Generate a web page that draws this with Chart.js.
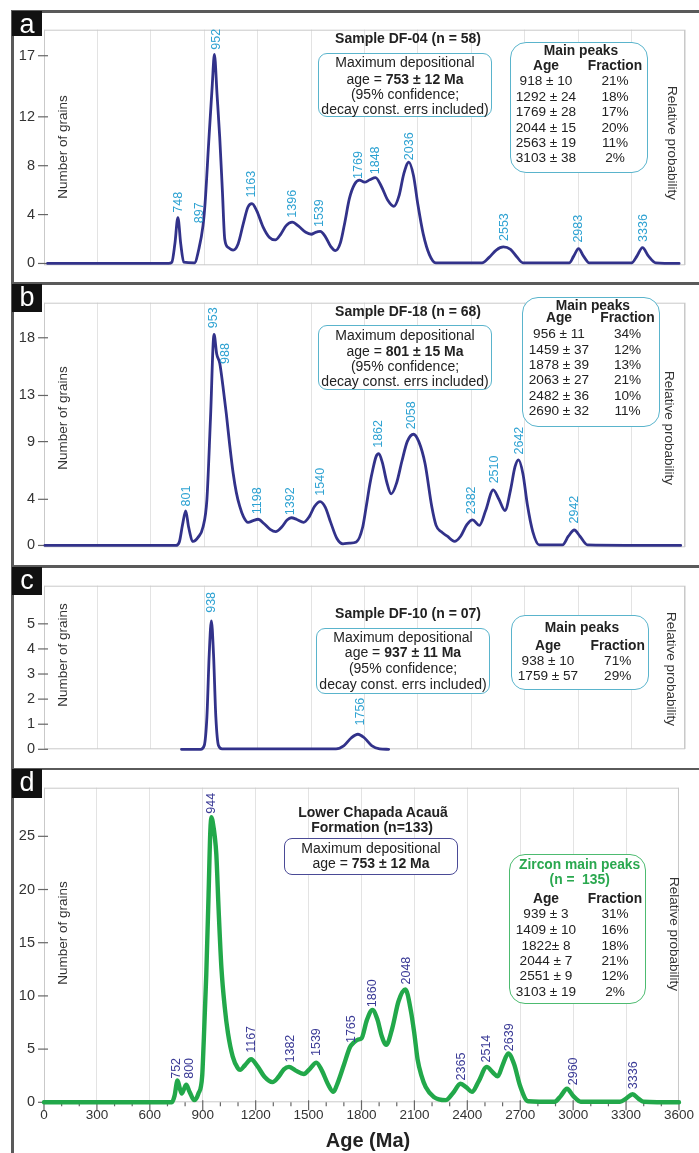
<!DOCTYPE html>
<html>
<head>
<meta charset="utf-8">
<script src="https://cdn.jsdelivr.net/npm/chart.js@4.4.0/dist/chart.umd.min.js"></script>
<style>
  body { margin:0; background:#fff; width:699px; height:1153px; position:relative; overflow:hidden;
         font-family:"Liberation Sans", Arial, sans-serif; color:#222; }
  .t { position:absolute; white-space:nowrap; line-height:1; }
  .bx { position:absolute; box-sizing:border-box; background:#fff; }
  .ln { position:absolute; background:#5a5a5a; }
  .lab { position:absolute; background:#111; color:#fff; font-size:27px; text-align:center; line-height:26px; }
</style>
</head>
<body>
<script>
// ---- data (age in Ma, number of grains) ----
let ageA = [20, 700, 718, 735, 752, 768, 785, 845, 870, 893, 905, 925, 945, 957, 972, 987, 1002, 1015, 1035, 1062,
  1090, 1120, 1145, 1168, 1195, 1230, 1265, 1299, 1330, 1360, 1394, 1430, 1470, 1501, 1525, 1551, 1580, 1610, 1637,
  1665, 1690, 1715, 1745, 1772, 1800, 1830, 1862, 1895, 1930, 1965, 1995, 2020, 2049, 2075, 2100, 2130, 2165, 2200,
  2460, 2500, 2540, 2580, 2620, 2655, 2690, 2950, 2975, 3002, 3030, 3062, 3300, 3330, 3361, 3395, 3436, 3567];
let valA = [0, 0, 0.1, 1.6, 3.75, 1.6, 0.1, 0.05, 1.2, 3.1, 5.0, 9.9, 14.6, 17.1, 13.8, 10.3, 5.9, 2.0, 1.3, 1.1,
  1.6, 3.3, 4.6, 4.9, 4.3, 3.0, 2.15, 1.93, 2.4, 3.1, 3.38, 3.05, 2.55, 2.39, 2.55, 2.62, 2.2, 1.4, 1.05,
  1.7, 3.4, 5.3, 6.5, 6.82, 6.65, 6.85, 7.02, 6.3, 5.2, 4.68, 5.6, 7.3, 8.3, 7.2, 4.8, 2.4, 0.7, 0.05,
  0.05, 0.5, 1.1, 1.35, 1.15, 0.55, 0.05, 0.05, 0.6, 1.22, 0.6, 0.05, 0.05, 0.6, 1.3, 0.6, 0.05, 0];

let ageB = [5, 740, 760, 778, 796, 812, 837, 865, 893, 915, 935, 955, 970, 987, 1005, 1024, 1043, 1062, 1080, 1099,
  1120, 1146, 1175, 1202, 1235, 1270, 1301, 1335, 1365, 1389, 1420, 1458, 1490, 1520, 1551, 1580, 1610, 1645, 1679,
  1715, 1754, 1790, 1809, 1830, 1847, 1865, 1880, 1900, 1925, 1950, 1980, 2010, 2040, 2075, 2105, 2140, 2178, 2202,
  2230, 2265, 2305, 2340, 2375, 2407, 2445, 2480, 2523, 2555, 2589, 2620, 2645, 2665, 2690, 2715, 2745, 2781,
  2912, 2945, 2978, 3010, 3052, 3576];
let valB = [0, 0, 0.3, 1.8, 3.0, 1.6, 0.35, 0.7, 1.6, 4.0, 11.0, 18.3, 16.6, 15.8, 13.8, 11.4, 8.7, 6.3, 4.6, 3.4,
  2.5, 2.0, 2.15, 2.27, 1.9, 1.4, 1.2, 1.6, 2.2, 2.4, 2.25, 2.0, 2.5, 3.4, 3.8, 3.3, 2.0, 0.6, 0.14,
  0.2, 0.3, 1.6, 3.3, 5.3, 6.6, 7.7, 7.95, 7.2, 5.5, 4.47, 5.4, 7.3, 9.0, 9.64, 9.0, 7.1, 3.35, 1.74,
  1.2, 0.8, 0.35, 0.8, 1.8, 2.22, 1.74, 3.0, 4.82, 4.0, 3.03, 4.8, 6.8, 7.42, 6.2, 3.5, 1.2, 0.05,
  0.05, 0.8, 1.34, 0.8, 0.05, 0];

let ageC = [772, 880, 900, 915, 928, 940, 952, 965, 980, 1000, 1640, 1685, 1725, 1763, 1800, 1840, 1885, 1936];
let valC = [0, 0, 0.15, 1.3, 3.8, 5.12, 3.8, 1.3, 0.15, 0.02, 0.02, 0.15, 0.45, 0.6, 0.45, 0.15, 0.02, 0];

let ageD = [0, 725, 740, 757, 770, 781, 795, 806, 825, 852, 875, 897, 905, 920, 933, 943, 950, 958, 968, 977, 990,
  1006, 1025, 1043, 1070, 1099, 1112, 1140, 1174, 1210, 1250, 1295, 1330, 1360, 1389, 1425, 1473, 1510, 1544, 1575,
  1610, 1641, 1660, 1700, 1735, 1753, 1780, 1800, 1830, 1862, 1890, 1915, 1940, 1975, 2010, 2049, 2080, 2100, 2118,
  2140, 2164, 2210, 2277, 2320, 2361, 2395, 2426, 2465, 2510, 2545, 2572, 2600, 2632, 2665, 2700, 2744, 2894, 2930,
  2965, 3000, 3043, 3265, 3300, 3337, 3370, 3400, 3600];
let valD = [0, 0, 0.6, 2.05, 1.3, 0.82, 1.3, 1.65, 1.0, 0.2, 0.8, 2.5, 5.5, 12.0, 19.5, 25.5, 26.8, 26.2, 25.0, 23.3, 18.1,
  12.6, 8.9, 6.5, 4.3, 3.2, 3.05, 3.5, 4.04, 3.4, 2.4, 1.9, 2.4, 3.1, 3.33, 3.0, 2.66, 3.2, 3.73, 3.0,
  1.7, 0.98, 1.6, 3.5, 5.2, 5.56, 5.9, 6.0, 7.7, 8.68, 7.8, 6.2, 5.4, 7.0, 9.5, 10.6, 8.6, 6.4, 4.04,
  2.5, 1.43, 0.5, 0.2, 0.9, 1.74, 1.4, 0.98, 2.0, 3.33, 2.8, 2.44, 3.5, 4.59, 3.6, 1.5, 0.1, 0.05, 0.6,
  1.28, 0.6, 0.05, 0.05, 0.35, 0.76, 0.35, 0.05, 0];

// peak labels: text, age position, value at the label foot
let peakTxtA = ['748', '897', '952', '1163', '1396', '1539', '1769', '1848', '2036', '2553', '2983', '3336'];
let peakAgeA = [757, 875, 968, 1168, 1398, 1548, 1768, 1862, 2052, 2585, 3002, 3365];
let peakValA = [3.74, 2.88, 17.08, 4.98, 3.34, 2.57, 6.51, 6.89, 8.04, 1.43, 1.30, 1.35];

let peakTxtB = ['801', '953', '988', '1198', '1392', '1540', '1862', '2058', '2382', '2510', '2642', '2942'];
let peakAgeB = [800, 955, 1021, 1202, 1383, 1551, 1880, 2067, 2404, 2529, 2669, 2978];
let peakValB = [2.95, 18.39, 15.3, 2.27, 2.19, 3.88, 8.03, 9.64, 2.27, 4.95, 7.45, 1.47];

let peakTxtC = ['938', '1756'];
let peakAgeC = [940, 1776];
let peakValC = [5.24, 0.75];

let peakTxtD = ['752', '800', '944', '1167', '1382', '1539', '1765', '1860', '2048', '2365', '2514', '2639', '2960', '3336'];
let peakAgeD = [753, 828, 949, 1174, 1395, 1544, 1744, 1865, 2058, 2366, 2510, 2641, 3002, 3342];
let peakValD = [1.74, 1.74, 26.66, 4.18, 3.27, 3.88, 5.1, 8.47, 10.6, 1.59, 3.27, 4.34, 1.13, 0.76];

// y tick labels
let yTicksA = [0, 4, 8, 12, 17];
let yTicksB = [0, 4, 9, 13, 18];
let yTicksC = [0, 1, 2, 3, 4, 5];
let yTicksD = [0, 5, 10, 15, 20, 25];

// main peak tables
let peakAgesA = ['918 ± 10', '1292 ± 24', '1769 ± 28', '2044 ± 15', '2563 ± 19', '3103 ± 38'];
let peakFracA = ['21%', '18%', '17%', '20%', '11%', '2%'];
let peakAgesB = ['956 ± 11', '1459 ± 37', '1878 ± 39', '2063 ± 27', '2482 ± 36', '2690 ± 32'];
let peakFracB = ['34%', '12%', '13%', '21%', '10%', '11%'];
let peakAgesC = ['938 ± 10', '1759 ± 57'];
let peakFracC = ['71%', '29%'];
let peakAgesD = ['939 ± 3', '1409 ± 10', '1822± 8', '2044 ± 7', '2551 ± 9', '3103 ± 19'];
let peakFracD = ['31%', '16%', '18%', '21%', '12%', '2%'];

const NAVY = '#32328a';
const CYAN = '#2ea2d2';
const TEAL = '#5ab4cc';
const GREEN = '#22a84a';
const FONT = '"Liberation Sans", Arial, sans-serif';

Chart.defaults.font.family = FONT;

function decor(p) {
  return {
    id: 'decor' + p.name,
    beforeDatasetsDraw(chart) {
      let ctx = chart.ctx, a = chart.chartArea, y = chart.scales.y, x = chart.scales.x;
      ctx.save();
      ctx.strokeStyle = '#c9c9c9';
      ctx.lineWidth = 1;
      ctx.strokeRect(a.left + 0.5, a.top + 0.5, a.right - a.left - 1, a.bottom - a.top - 1);
      ctx.strokeStyle = '#666';
      ctx.lineWidth = 1.2;
      p.yTicks.forEach(v => {
        let py = y.getPixelForValue(v);
        ctx.beginPath(); ctx.moveTo(a.left - 6, py); ctx.lineTo(a.left + 4, py); ctx.stroke();
      });
      if (p.showX) {
        let y0 = y.getPixelForValue(0);
        for (let v = 0; v <= 3600; v += 100) {
          let px = x.getPixelForValue(v);
          ctx.beginPath();
          if (v % 300 === 0) { ctx.moveTo(px, y0 - 2); ctx.lineTo(px, y0 + 8); }
          else { ctx.moveTo(px, y0); ctx.lineTo(px, y0 + 4); }
          ctx.stroke();
        }
      }
      ctx.restore();
    },
    afterDatasetsDraw(chart) {
      let ctx = chart.ctx, y = chart.scales.y, x = chart.scales.x;
      ctx.save();
      ctx.fillStyle = p.labelColor;
      ctx.font = '12.5px ' + FONT;
      ctx.textAlign = 'left';
      ctx.textBaseline = 'middle';
      p.txt.forEach((t, i) => {
        ctx.save();
        ctx.translate(x.getPixelForValue(p.age[i]), y.getPixelForValue(p.val[i]) - 5);
        ctx.rotate(-Math.PI / 2);
        ctx.fillText(t, 0, 0);
        ctx.restore();
      });
      ctx.restore();
    }
  };
}

function makeChart(p) {
  let cv = document.createElement('canvas');
  cv.width = 699; cv.height = p.height;
  cv.style.cssText = 'position:absolute;left:0;top:' + p.top + 'px';
  document.body.appendChild(cv);
  return new Chart(cv, {
    type: 'line',
    data: {
      datasets: [{
        data: p.ages.map((a, i) => ({ x: a, y: p.vals[i] })),
        borderColor: p.color,
        borderWidth: p.width,
        pointRadius: 0,
        fill: false,
        tension: 0.4,
        cubicInterpolationMode: 'monotone',
        borderJoinStyle: 'round',
        borderCapStyle: 'round',
        clip: 8
      }]
    },
    options: {
      responsive: false,
      animation: false,
      events: [],
      layout: { padding: { top: p.padTop, bottom: p.padBottom, left: 0, right: 14 } },
      plugins: { legend: { display: false }, tooltip: { enabled: false } },
      scales: {
        x: {
          type: 'linear', min: 0, max: 3600,
          ticks: {
            display: p.showX, stepSize: 100, autoSkip: false, maxRotation: 0, padding: 5,
            color: '#333', font: { size: 13.5 },
            callback: v => (v % 300 === 0 ? String(v) : '')
          },
          grid: {
            drawTicks: false,
            color: c => (c.tick && c.tick.value % 300 === 0 ? '#e3e3e3' : 'rgba(0,0,0,0)')
          },
          border: { display: false },
          afterFit: s => { s.height = p.xHeight; }
        },
        y: {
          min: p.min, max: p.max,
          afterBuildTicks: s => { s.ticks = p.yTicks.map(v => ({ value: v })); },
          ticks: { padding: 9, color: '#333', font: { size: 14.5 } },
          grid: { display: false, drawTicks: false },
          border: { display: false },
          afterFit: s => { s.width = 44; }
        }
      }
    },
    plugins: [decor(p)]
  });
}

makeChart({ name: 'a', top: 12, height: 271, padTop: 9, padBottom: 9, xHeight: 0, showX: false,
  min: -0.15, max: 19.13, yTicks: yTicksA, ages: ageA, vals: valA, color: NAVY, width: 2.8,
  txt: peakTxtA, age: peakAgeA, val: peakValA, labelColor: CYAN });
makeChart({ name: 'b', top: 285, height: 280, padTop: 8, padBottom: 8, xHeight: 0, showX: false,
  min: -0.16, max: 21.04, yTicks: yTicksB, ages: ageB, vals: valB, color: NAVY, width: 2.8,
  txt: peakTxtB, age: peakAgeB, val: peakValB, labelColor: CYAN });
makeChart({ name: 'c', top: 568, height: 199, padTop: 8, padBottom: 9.3, xHeight: 0, showX: false,
  min: 0, max: 6.52, yTicks: yTicksC, ages: ageC, vals: valC, color: NAVY, width: 2.8,
  txt: peakTxtC, age: peakAgeC, val: peakValC, labelColor: CYAN });
makeChart({ name: 'd', top: 770, height: 383, padTop: 10, padBottom: 0, xHeight: 50.7, showX: true,
  min: 0, max: 29.57, yTicks: yTicksD, ages: ageD, vals: valD, color: GREEN, width: 4.4,
  txt: peakTxtD, age: peakAgeD, val: peakValD, labelColor: '#3a3a96' });

// ---- frame, boxes and text ----
function el(cls, css, html) {
  let d = document.createElement('div');
  d.className = cls;
  d.style.cssText = css;
  if (html !== undefined) d.innerHTML = html;
  document.body.appendChild(d);
  return d;
}
function txt(s, x, y, size, extra, rot) {
  el('t', 'left:' + x + 'px;top:' + y + 'px;font-size:' + size + 'px;transform:translate(-50%,-50%)' +
    (rot ? ' rotate(' + rot + 'deg)' : '') + ';' + (extra || ''), s);
}
function box(x1, y1, x2, y2, color, r) {
  el('bx', 'left:' + x1 + 'px;top:' + y1 + 'px;width:' + (x2 - x1) + 'px;height:' + (y2 - y1) +
    'px;border:1.5px solid ' + color + ';border-radius:' + r + 'px');
}

el('ln', 'left:11px;top:10px;width:688px;height:2.5px');
el('ln', 'left:11px;top:282px;width:688px;height:2.5px');
el('ln', 'left:11px;top:565px;width:688px;height:2.5px');
el('ln', 'left:11px;top:767.5px;width:688px;height:2.5px');
el('ln', 'left:11px;top:10px;width:2.5px;height:1143px');

el('lab', 'left:12px;top:11px;width:30px;height:25px', 'a');
el('lab', 'left:12px;top:284px;width:30px;height:28px', 'b');
el('lab', 'left:12px;top:567px;width:30px;height:28px', 'c');
el('lab', 'left:12px;top:769px;width:30px;height:29px', 'd');

function ylabels(yNum, yRel, xRel) {
  txt('Number of grains', 63, yNum, 13.5, 'color:#333', -90);
  txt('Relative probability', xRel, yRel, 13.5, 'color:#333', 90);
}
ylabels(147, 143, 672);
ylabels(417.5, 427.5, 668.5);
ylabels(655, 669, 671);
ylabels(933, 934, 674);

function mdaBox(x1, y1, x2, y2, cx, ys, age) {
  box(x1, y1, x2, y2, TEAL, 9);
  txt('Maximum depositional', cx, ys[0], 14);
  txt('age = <b>' + age + '</b>', cx, ys[1], 14);
  txt('(95% confidence;', cx, ys[2], 14);
  txt('decay const. errs included)', cx, ys[3], 14);
}
function peakTable(x1, y1, x2, y2, color, r, head, headColor, headYs, xa, xf, yHdr, ys, ages, fracs) {
  box(x1, y1, x2, y2, color, r);
  let cx = (x1 + x2) / 2 + 2;
  head.forEach((h, i) => txt(h, cx, headYs[i], 13.8, 'font-weight:bold;color:' + headColor));
  txt('Age', xa, yHdr, 13.8, 'font-weight:bold');
  txt('Fraction', xf, yHdr, 13.8, 'font-weight:bold');
  ages.forEach((a, i) => {
    txt(a, xa, ys[i], 13.6);
    txt(fracs[i], xf, ys[i], 13.6);
  });
}

// panel a
txt('Sample DF-04 (n = 58)', 408, 38, 14, 'font-weight:bold');
mdaBox(318, 53, 492, 117, 405, [62, 79, 94, 108.5], '753 ± 12 Ma');
peakTable(510, 42, 648, 173, TEAL, 16, ['Main peaks'], '#222', [51], 546, 615, 66,
  [81, 96.7, 112.3, 127.7, 142.7, 158.3], peakAgesA, peakFracA);

// panel b
txt('Sample DF-18 (n = 68)', 408, 310.7, 14, 'font-weight:bold');
mdaBox(318, 325, 492, 390, 405, [335, 350.7, 366, 380.7], '801 ± 15 Ma');
peakTable(521.7, 296.7, 660, 426.7, TEAL, 16, ['Main peaks'], '#222', [306], 559, 627.5, 318.3,
  [334, 349.7, 365, 380, 396, 411.3], peakAgesB, peakFracB);

// panel c
txt('Sample DF-10 (n = 07)', 408, 612.7, 14, 'font-weight:bold');
mdaBox(316, 627.7, 490, 694, 403, [636.7, 652.3, 668.3, 684], '937 ± 11 Ma');
peakTable(510.7, 615, 649.3, 690, TEAL, 14, ['Main peaks'], '#222', [627.7], 548, 617.7, 645.7,
  [661, 676], peakAgesC, peakFracC);

// panel d
txt('Lower Chapada Acauã', 373, 811.7, 14, 'font-weight:bold');
txt('Formation (n=133)', 372, 826.7, 14, 'font-weight:bold');
box(284.3, 837.7, 458.3, 875, '#4a4a96', 8);
txt('Maximum depositional', 371, 847.7, 14);
txt('age = <b>753 ± 12 Ma</b>', 371, 863.3, 14);
peakTable(509.3, 854.3, 646, 1004.3, '#4dbb70', 16, ['Zircon main peaks', '(n =&nbsp; 135)'], '#2aa84f', [865, 880],
  546, 615, 899, [914.3, 930, 945.7, 961, 976, 991.7], peakAgesD, peakFracD);

txt('Age (Ma)', 368, 1140, 20, 'font-weight:bold;color:#222');
</script>
</body>
</html>
